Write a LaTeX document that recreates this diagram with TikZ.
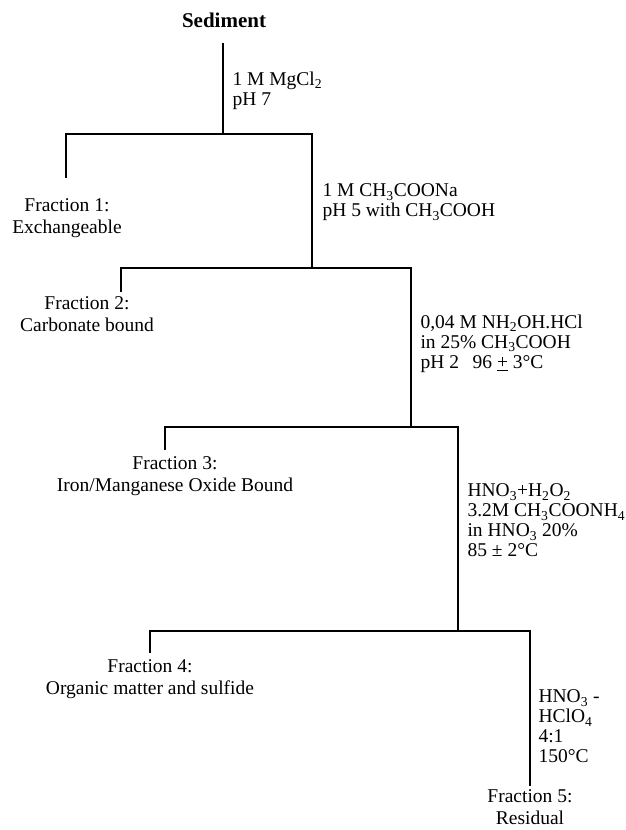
\documentclass[tikz,border=0pt]{standalone}
\usepackage{fontspec}
\setmainfont{Liberation Serif}
\usepackage{tikz}
\usetikzlibrary{positioning}

\begin{document}
\begin{tikzpicture}[x=1pt,y=-1pt,line width=1.1pt,
  every node/.style={inner sep=0pt,font=\fontsize{19.5}{22}\selectfont},
  frac/.style={anchor=north,align=center},
  reag/.style={anchor=north west,align=left,font=\fontsize{19.5}{20}\selectfont}]
\useasboundingbox (0,0) rectangle (625,830);

% Sample
\node[font=\fontsize{21}{24}\selectfont\bfseries] (sed) at (224,20) {Sediment};
\coordinate (s0) at (223,43);

% Junctions
\coordinate (j1) at (223,134);
\coordinate (j2) at (312,268);
\coordinate (j3) at (411,427);
\coordinate (j4) at (458,631);

% Step 1
\draw (s0) -- (j1);
\draw (66,178) -- (66,134) -- (312,134) -- (j2);
\node[reag] (r1) at (232,71.5) {1 M MgCl\textsubscript{2}\\pH 7};
\node[frac] (f1) at (67,198) {Fraction 1:\\Exchangeable};

% Step 2
\draw (121,292) -- (121,268) -- (411,268) -- (j3);
\node[reag] (r2) at (322,183.5) {1 M CH\textsubscript{3}COONa\\pH 5 with CH\textsubscript{3}COOH};
\node[frac] (f2) at (87,296) {Fraction 2:\\Carbonate bound};

% Step 3
\draw (165,450) -- (165,427) -- (458,427) -- (j4);
\node[reag] (r3) at (420,314.5) {0,04 M NH\textsubscript{2}OH.HCl\\in 25\% CH\textsubscript{3}COOH\\pH 2\hspace{0.7em}96 \underline{+} 3°C};
\node[frac] (f3) at (175,456) {Fraction 3:\\Iron/Manganese Oxide Bound};

% Step 4
\draw (150,653) -- (150,631) -- (530,631) -- (530,786);
\node[reag] (r4) at (467,483.5) {HNO\textsubscript{3}+H\textsubscript{2}O\textsubscript{2}\\3.2M CH\textsubscript{3}COONH\textsubscript{4}\\in HNO\textsubscript{3} 20\%\\85 ± 2°C};
\node[frac] (f4) at (150,659) {Fraction 4:\\Organic matter and sulfide};

% Residue
\node[reag] (r5) at (538,689.5) {HNO\textsubscript{3} -\\HClO\textsubscript{4}\\4:1\\150°C};
\node[frac] (f5) at (530,789) {Fraction 5:\\Residual};
\end{tikzpicture}
\end{document}
